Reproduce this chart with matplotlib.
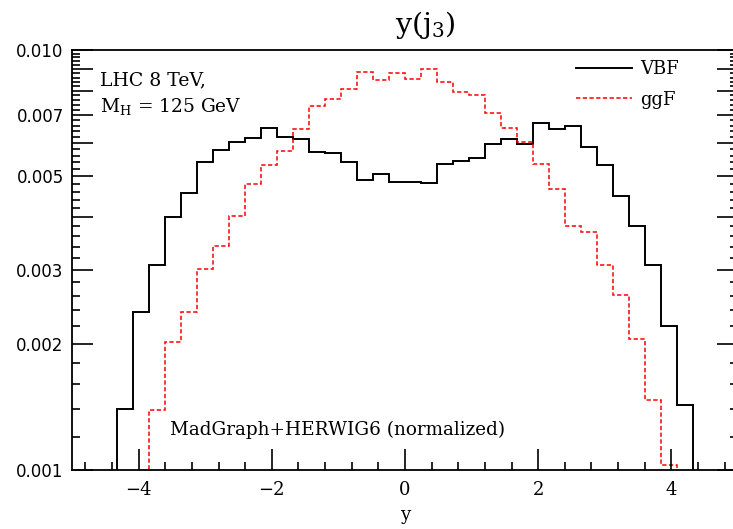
import numpy as np
import matplotlib.pyplot as plt
from matplotlib.lines import Line2D
from matplotlib.ticker import FixedLocator, FuncFormatter

plt.rcParams['mathtext.fontset'] = 'dejavuserif'
plt.rcParams['mathtext.default'] = 'regular'

# bin edges of the rapidity histogram (width 0.24)
edges = np.linspace(-4.32, 4.32, 37)

vbf = np.array([1.40, 2.38, 3.07, 4.00, 4.56, 5.40, 5.77, 6.05, 6.16, 6.53,
                6.22, 6.14, 5.73, 5.70, 5.42, 4.91, 5.07, 4.86, 4.84, 4.81,
                5.35, 5.43, 5.52, 5.98, 6.13, 5.97, 6.71, 6.49, 6.59, 5.86,
                5.31, 4.49, 3.80, 3.08, 2.20, 1.43]) * 1e-3

ggf = np.array([0.0, 0.0, 1.39, 2.02, 2.38, 3.01, 3.41, 4.03, 4.79, 5.32,
                5.75, 6.47, 7.37, 7.66, 8.09, 8.84, 8.48, 8.83, 8.55, 9.03,
                8.38, 7.94, 7.81, 7.09, 6.52, 6.05, 5.35, 4.67, 3.82, 3.69,
                3.07, 2.61, 2.05, 1.47, 1.03, 0.0]) * 1e-3

y_major = np.arange(1, 11) * 1e-3
y_labels = {1: '0.001', 2: '0.002', 3: '0.003', 5: '0.005', 7: '0.007', 10: '0.010'}
# minor ticks every 0.0002, skipping the majors
y_minor = np.array([k for k in range(12, 100, 2) if k % 10 != 0]) * 1e-4

fig = plt.figure(figsize=(7.33, 5.29), dpi=100)
ax = fig.add_axes([72/733, 59/529, 666/733, 420/529])

base = 1e-5  # empty bins sit below the visible range
ax.stairs(np.where(vbf > 0, vbf, base), edges, baseline=base, color='black', lw=1.4)
ax.stairs(np.where(ggf > 0, ggf, base), edges, baseline=base, color='red', lw=1.1,
          linestyle=(0, (2.8, 1.6)))

ax.set_yscale('log')
ax.set_xlim(-5, 5)
ax.set_ylim(0.001, 0.010)

ax.xaxis.set_major_locator(FixedLocator([-4, -2, 0, 2, 4]))
ax.xaxis.set_minor_locator(FixedLocator(np.arange(-4.8, 5.0, 0.4)))
ax.yaxis.set_major_locator(FixedLocator(y_major))
ax.yaxis.set_minor_locator(FixedLocator(y_minor))
ax.yaxis.set_major_formatter(FuncFormatter(lambda v, p: y_labels.get(int(round(v * 1000)), '')))
ax.yaxis.set_minor_formatter(FuncFormatter(lambda v, p: ''))

ax.tick_params(which='both', direction='in', top=False, right=True, width=1.2)
ax.tick_params(which='major', length=15)
ax.tick_params(which='minor', length=5.5)
ax.tick_params(axis='y', labelsize=12, pad=6)
ax.tick_params(axis='x', pad=8)
for lab in ax.get_xticklabels():
    lab.set_family('DejaVu Serif')
    lab.set_fontsize(13)
for s in ax.spines.values():
    s.set_linewidth(1.3)

ax.set_xlabel('y', family='DejaVu Serif', fontsize=13, labelpad=5)

ax.text(0.042, 0.917, 'LHC 8 TeV,', transform=ax.transAxes, va='baseline',
        family='DejaVu Serif', fontsize=13.6)
ax.text(0.042, 0.852, 'M$_{H}$ = 125 GeV', transform=ax.transAxes, va='baseline',
        family='DejaVu Serif', fontsize=13.4)
ax.text(0.147, 0.083, 'MadGraph+HERWIG6 (normalized)', transform=ax.transAxes,
        va='baseline', family='DejaVu Serif', fontsize=13.2)

handles = [Line2D([], [], color='black', lw=1.4),
           Line2D([], [], color='red', lw=1.1, linestyle=(0, (2.8, 1.6)))]
ax.legend(handles, ['VBF', 'ggF'], loc='upper left', bbox_to_anchor=(0.757, 0.976),
          frameon=False, borderpad=0, borderaxespad=0, handlelength=3.1,
          handletextpad=0.45, labelspacing=0.7, prop={'family': 'DejaVu Serif', 'size': 13})

fig.text(425/733, 1 - 25/529, 'y(j$_3$)', ha='center', va='center',
         family='DejaVu Serif', fontsize=20.5)

fig.savefig('out.png', dpi=100)
